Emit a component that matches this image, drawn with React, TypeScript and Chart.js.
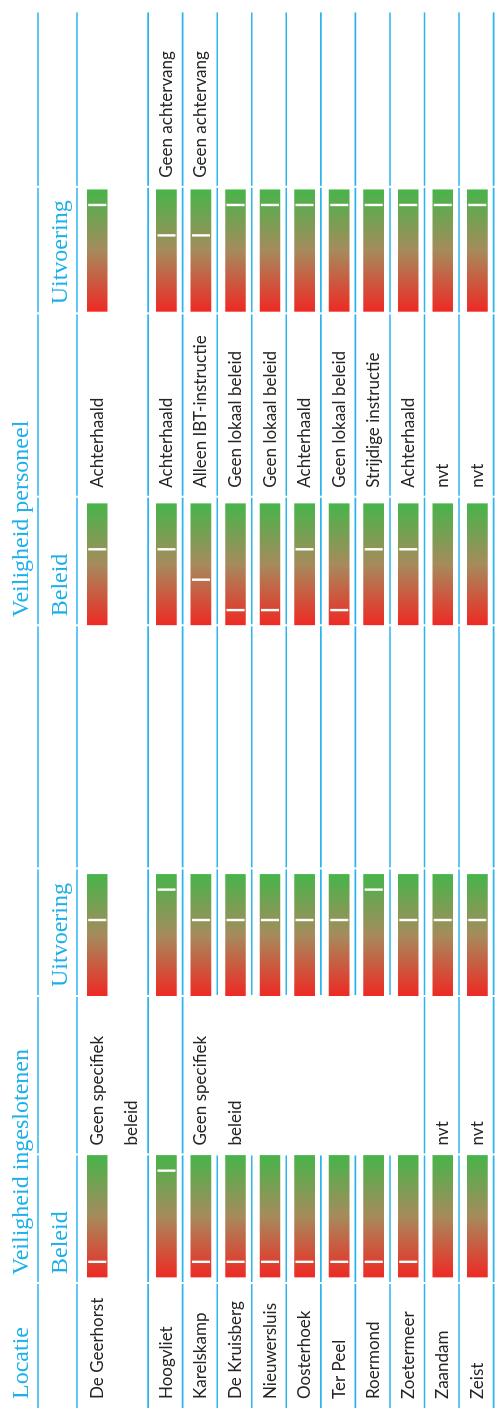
import React, { useEffect, useRef } from 'react';
import { Chart, registerables } from 'chart.js';

Chart.register(...registerables);

// ---------------- data ----------------
const locationHeader = 'Locatie';
const locations = [
  'De Geerhorst', 'Hoogvliet', 'Karelskamp', 'De Kruisberg', 'Nieuwersluis',
  'Oosterhoek', 'Ter Peel', 'Roermond', 'Zoetermeer', 'Zaandam', 'Zeist',
];
const groupTitles = ['Veiligheid ingeslotenen', 'Veiligheid personeel'];
const aspectTitles = ['Beleid', 'Uitvoering'];
const scoreLevels = 4; // score scale 1..4 (red → green)

const ingeslotenenBeleid = [1, 4, 1, 1, 1, 1, 1, 1, 1, null, null];
const ingeslotenenUitvoering = [3, 4, 3, 3, 3, 3, 3, 4, 3, 3, 3];
const personeelBeleid = [3, 3, 2, 1, 1, 3, 1, 3, 3, null, null];
const personeelUitvoering = [4, 3, 3, 4, 4, 4, 4, 4, 4, 4, 4];

const ingeslotenenBeleidNotes = ['Geen specifiek\nbeleid', '', 'Geen specifiek\nbeleid', '', '', '', '', '', '', 'nvt', 'nvt'];
const ingeslotenenUitvoeringNotes = ['', '', '', '', '', '', '', '', '', '', ''];
const personeelBeleidNotes = [
  'Achterhaald', 'Achterhaald', 'Alleen IBT-instructie', 'Geen lokaal beleid', 'Geen lokaal beleid',
  'Achterhaald', 'Geen lokaal beleid', 'Strijdige instructie', 'Achterhaald', 'nvt', 'nvt',
];
const personeelUitvoeringNotes = ['', 'Geen achtervang', 'Geen achtervang', '', '', '', '', '', '', '', ''];

// ---------------- layout / style ----------------
const W = 1409; // chart drawn landscape, then rotated
const H = 506;
const PAD = { left: 10, right: 7, top: 80, bottom: 0 };
const LOC_COL_W = 126;
const rowSpans = [2, 1, 1, 1, 1, 1, 1, 1, 1, 1, 1];
const barColW = [129, 128, 129, 127];
const noteColW = [159, 244, 184, 176];
const barInset = [6, 0, 0, 2];
const BAR_LEN = 122;
const BAR_THICK = 20;
const TEXT_PAD = 9;
const HEADER_LINE_OFFSET = 42;
const SUB_LINE_OFFSET = 3;
const mergedNotes = [{ section: 0, from: 2, to: 8 }];
const BLUE = '#1cb0ea';
const LINE = '#2ab5ec';
const TEXT = '#262425';
const SERIF = '24px "Liberation Serif"';
const SANS_FAMILY = 'Lato';
const SANS_SIZE = 17;
const RED = '#ee2a24';
const MID = '#a68b5c';
const GREEN = '#47b44a';

const sections = [
  { group: 0, aspect: 0, values: ingeslotenenBeleid, notes: ingeslotenenBeleidNotes },
  { group: 0, aspect: 1, values: ingeslotenenUitvoering, notes: ingeslotenenUitvoeringNotes },
  { group: 1, aspect: 0, values: personeelBeleid, notes: personeelBeleidNotes },
  { group: 1, aspect: 1, values: personeelUitvoering, notes: personeelUitvoeringNotes },
];

const slotStart: number[] = [];
const slotLabels: string[] = [];
locations.forEach((name, i) => {
  slotStart.push(slotLabels.length);
  slotLabels.push(name);
  for (let k = 1; k < rowSpans[i]; k++) slotLabels.push('');
});
const toSlots = (arr: (number | null)[]) => {
  const out: (number | null)[] = slotLabels.map(() => null);
  arr.forEach((v, i) => { out[slotStart[i]] = v; });
  return out;
};

function getColumns(chart: any) {
  const cols = [{ left: 0, right: chart.chartArea.left }];
  sections.forEach((_, si) => {
    const b = chart.scales['xb' + si];
    const n = chart.scales['xn' + si];
    cols.push({ left: b.left, right: b.right });
    cols.push({ left: n.left, right: n.right });
  });
  return cols;
}

const tablePlugin = {
  id: 'tableGrid',
  beforeDatasetsDraw(chart: any) {
    const { ctx, chartArea } = chart;
    const yS = chart.scales.y;
    const cols = getColumns(chart);
    const half = (yS.getPixelForValue(1) - yS.getPixelForValue(0)) / 2;
    const lines: { y: number; after: number }[] = [
      { y: chartArea.top - HEADER_LINE_OFFSET, after: -1 },
      { y: chartArea.top - SUB_LINE_OFFSET, after: -1 },
    ];
    locations.forEach((_, i) => {
      const last = slotStart[i] + rowSpans[i] - 1;
      lines.push({ y: yS.getPixelForValue(last) + half - 1, after: i });
    });
    ctx.save();
    ctx.strokeStyle = LINE;
    ctx.lineWidth = 1.6;
    lines.forEach((ln) => {
      cols.forEach((c, ci) => {
        const skip = mergedNotes.some((m) => ci === 2 + 2 * m.section && ln.after >= m.from && ln.after < m.to);
        if (skip) return;
        ctx.beginPath();
        ctx.moveTo(c.left + 1, ln.y);
        ctx.lineTo(c.right - 1, ln.y);
        ctx.stroke();
      });
    });
    ctx.restore();
  },
  afterDatasetsDraw(chart: any) {
    const { ctx, chartArea } = chart;
    const yS = chart.scales.y;
    const cols = getColumns(chart);
    ctx.save();
    ctx.textAlign = 'left';
    ctx.textBaseline = 'alphabetic';
    ctx.fillStyle = BLUE;
    ctx.font = SERIF;
    const hY = chartArea.top - HEADER_LINE_OFFSET - 10;
    ctx.fillText(locationHeader, PAD.left, hY);
    groupTitles.forEach((t, g) => {
      ctx.fillText(t, cols[1 + 4 * g].left + 8, hY);
    });
    const sY = chartArea.top - SUB_LINE_OFFSET - 10;
    sections.forEach((s, si) => {
      ctx.fillText(aspectTitles[s.aspect], cols[1 + 2 * si].left + TEXT_PAD, sY);
    });
    ctx.fillStyle = TEXT;
    ctx.font = `${SANS_SIZE}px ${SANS_FAMILY}`;
    ctx.textBaseline = 'middle';
    sections.forEach((s, si) => {
      const c = cols[2 + 2 * si];
      s.notes.forEach((n, i) => {
        if (!n) return;
        n.split('\n').forEach((line, k) => {
          ctx.fillText(line, c.left + TEXT_PAD, yS.getPixelForValue(slotStart[i] + k));
        });
      });
    });
    ctx.restore();
  },
};

const gradientFor = (axisId: string) => (c: any) => {
  const chart = c.chart;
  const sc = chart.scales[axisId];
  if (!sc || !chart.chartArea) return GREEN;
  const x0 = sc.getPixelForValue(0);
  const x1 = sc.getPixelForValue(scoreLevels);
  const g = chart.ctx.createLinearGradient(x0, 0, x1, 0);
  g.addColorStop(0, RED);
  g.addColorStop(0.5, MID);
  g.addColorStop(1, GREEN);
  return g;
};

export default function App() {
  const ref = useRef<HTMLCanvasElement | null>(null);

  useEffect(() => {
    if (!ref.current) return;
    const datasets: any[] = [];
    const scales: any = {
      y: {
        type: 'category',
        position: 'left',
        offset: true,
        grid: { display: false },
        border: { display: false },
        ticks: {
          autoSkip: false,
          crossAlign: 'far',
          padding: 0,
          color: TEXT,
          font: { family: SANS_FAMILY, size: SANS_SIZE },
        },
        afterFit: (s: any) => { s.width = LOC_COL_W - PAD.left; },
      },
    };
    sections.forEach((s, si) => {
      const axis = 'xb' + si;
      scales[axis] = {
        type: 'linear', axis: 'x', position: 'bottom', stack: 'columns', stackWeight: barColW[si], display: false,
        min: (-barInset[si] / BAR_LEN) * scoreLevels,
        max: ((barColW[si] - barInset[si]) / BAR_LEN) * scoreLevels,
      };
      scales['xn' + si] = {
        type: 'linear', axis: 'x', position: 'bottom', stack: 'columns', stackWeight: noteColW[si], display: false,
        min: 0, max: 1,
      };
      datasets.push({
        type: 'bar',
        label: groupTitles[s.group] + ' ' + aspectTitles[s.aspect],
        xAxisID: axis,
        yAxisID: 'y',
        data: toSlots(locations.map(() => scoreLevels)),
        grouped: false,
        barThickness: BAR_THICK,
        borderWidth: 0,
        backgroundColor: gradientFor(axis),
        order: 2,
      });
      datasets.push({
        type: 'line',
        label: 'score',
        xAxisID: axis,
        yAxisID: 'y',
        data: toSlots(s.values.map((v) => (v == null ? null : v - 0.5))),
        showLine: false,
        pointStyle: 'line',
        pointRadius: 9,
        pointRotation: 90,
        pointBorderColor: '#ffffff',
        pointBackgroundColor: '#ffffff',
        pointBorderWidth: 2.4,
        order: 1,
      });
    });

    const chart = new Chart(ref.current, {
      type: 'bar',
      data: { labels: slotLabels, datasets },
      options: {
        indexAxis: 'y',
        responsive: false,
        maintainAspectRatio: false,
        animation: false,
        devicePixelRatio: 1,
        events: [],
        layout: { padding: PAD },
        plugins: { legend: { display: false }, tooltip: { enabled: false }, title: { display: false } },
        scales,
      } as any,
      plugins: [tablePlugin],
    });
    return () => chart.destroy();
  }, []);

  return (
    <div style={{ position: 'fixed', left: 0, top: 0, width: 502, height: W, overflow: 'hidden', background: '#fff' }}>
      <div
        style={{
          position: 'absolute', left: 0, top: 0, width: W, height: H,
          transformOrigin: '0 0', transform: `translateY(${W}px) rotate(-90deg)`,
        }}
      >
        <canvas ref={ref} width={W} height={H} style={{ display: 'block', width: W, height: H }} />
      </div>
    </div>
  );
}
